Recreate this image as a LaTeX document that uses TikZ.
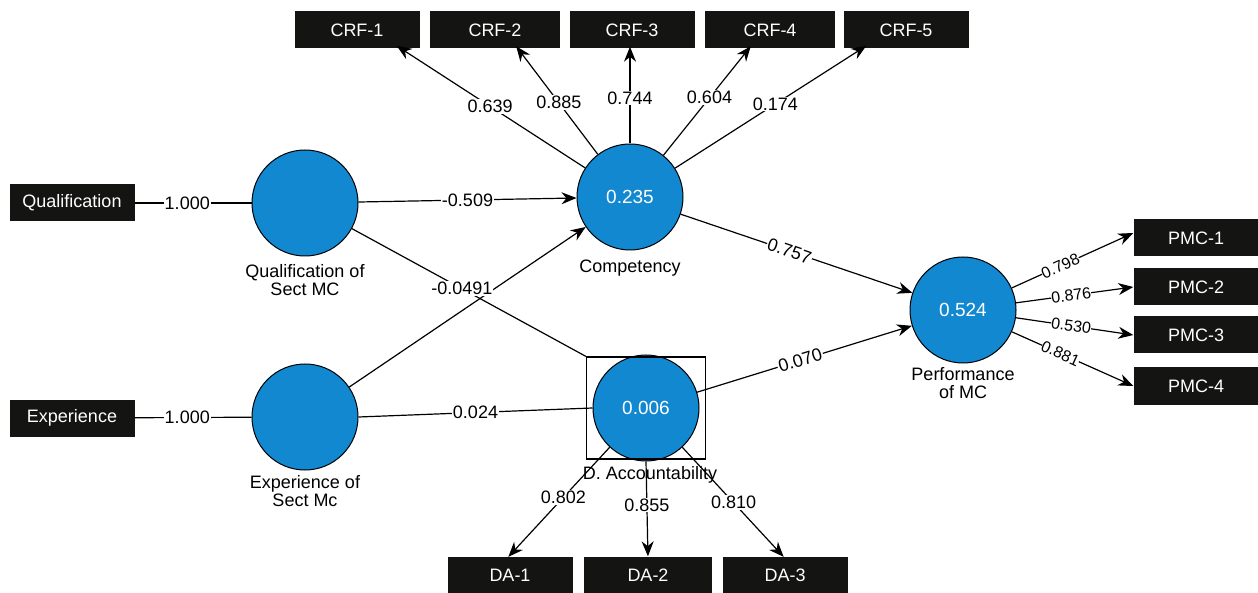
\documentclass[tikz,border=0pt]{standalone}
\usepackage{fontspec}
\setmainfont{Liberation Sans}
\usetikzlibrary{arrows.meta}
\definecolor{lvblue}{RGB}{18,136,208}
\definecolor{boxblack}{RGB}{20,20,18}
\tikzset{
  lv/.style={circle,draw=black,line width=1pt,fill=lvblue,minimum size=106pt,inner sep=0pt,text=white,font=\fontsize{19}{19}\selectfont},
  mv/.style={rectangle,fill=boxblack,text=white,minimum width=125pt,minimum height=37pt,inner sep=0pt,font=\fontsize{18}{18}\selectfont},
  lvname/.style={align=center,font=\fontsize{18}{18}\selectfont,inner sep=0pt},
  lbl/.style={fill=white,inner sep=1pt,font=\fontsize{18}{18}\selectfont},
  plbl/.style={fill=white,inner sep=0pt,font=\fontsize{16}{16}\selectfont},
  ln/.style={draw=black,line width=1.2pt},
  arr/.style={ln,-{Stealth[length=15pt,width=12pt]}},
}
\begin{document}
\begin{tikzpicture}[x=1pt,y=-1pt]
\useasboundingbox (0,0) rectangle (1258,593);
% latent variables
\node[lv] (qual) at (305,203) {};
\node[lv] (exp) at (305,417) {};
\node[lv] (comp) at (630,197) {0.235};
\node[lv] (da) at (646,408) {0.006};
\node[lv] (perf) at (963,310) {0.524};
\node[draw=black,line width=1.2pt,minimum width=119pt,minimum height=102pt,inner sep=0pt] (dasq) at (646,408) {};
% names
\node[lvname] (qualn) at (305,280) {Qualification of\\Sect MC};
\node[lvname] (expn) at (305,491) {Experience of\\Sect Mc};
\node[lvname] (compn) at (630,268) {Competency};
\node[lvname] (dan) at (650,475) {D. Accountability};
\node[lvname] (perfn) at (963,383) {Performance\\of MC};
% manifest variables
\node[mv] (qbox) at (72,203) {Qualification};
\node[mv] (ebox) at (72,418) {Experience};
\node[mv] (crf1) at (357,30) {CRF-1};
\node[mv,minimum width=130pt] (crf2) at (495,30) {CRF-2};
\node[mv] (crf3) at (632,30) {CRF-3};
\node[mv,minimum width=130pt] (crf4) at (770,30) {CRF-4};
\node[mv] (crf5) at (906,30) {CRF-5};
\node[mv] (pmc1) at (1196,238) {PMC-1};
\node[mv] (pmc2) at (1196,287) {PMC-2};
\node[mv] (pmc3) at (1196,335) {PMC-3};
\node[mv] (pmc4) at (1196,386) {PMC-4};
\node[mv] (da1) at (510,575) {DA-1};
\node[mv,minimum width=128pt] (da2) at (648,575) {DA-2};
\node[mv] (da3) at (785,575) {DA-3};
% outer model of single-item constructs
\draw[ln] (qbox) -- node[lbl,pos=0.45]{1.000} (qual);
\draw[ln] (ebox) -- node[lbl,pos=0.45]{1.000} (exp);
% inner model
\draw[arr] (qual) -- node[lbl,pos=0.5]{-0.509} (comp);
\draw[arr] (exp) -- (comp);
\draw[ln] (qual) -- node[lbl,pos=0.47]{-0.0491} (dasq.north west);
\draw[ln] (exp.east) -- node[lbl,pos=0.5]{0.024} (da.west);
\draw[arr] (comp) -- node[lbl,sloped,pos=0.47]{0.757} (perf);
\draw[arr] (da) -- node[lbl,sloped,pos=0.48]{0.070} (perf);
% competency indicators
\draw[arr,shorten >=2pt] (comp) -- node[lbl,pos=0.5]{0.639} ([xshift=38pt,yshift=4pt]crf1.south);
\draw[arr,shorten >=2pt] (comp) -- node[lbl,pos=0.47]{0.885} ([xshift=20pt,yshift=4pt]crf2.south);
\draw[arr,shorten >=2pt] (comp) -- node[lbl,pos=0.46]{0.744} ([xshift=-2pt,yshift=4pt]crf3.south);
\draw[arr,shorten >=2pt] (comp) -- node[lbl,pos=0.52]{0.604} ([xshift=-18pt,yshift=4pt]crf4.south);
\draw[arr,shorten >=2pt] (comp) -- node[lbl,pos=0.52]{0.174} ([xshift=-38pt,yshift=4pt]crf5.south);
% performance indicators
\draw[arr] (perf) -- node[plbl,sloped,pos=0.4]{0.798} ([yshift=5pt]pmc1.west);
\draw[arr] (perf) -- node[plbl,sloped,pos=0.47]{0.876} (pmc2.west);
\draw[arr] (perf) -- node[plbl,sloped,pos=0.47]{0.530} (pmc3.west);
\draw[arr] (perf) -- node[plbl,sloped,pos=0.4]{0.881} (pmc4.west);
% accountability indicators
\draw[arr,shorten >=2pt] (da) -- node[lbl,pos=0.45]{0.802} ([xshift=-3pt,yshift=-2pt]da1.north);
\draw[arr,shorten >=2pt] (da.south) -- node[lbl,pos=0.45]{0.855} ([yshift=-2pt]da2.north);
\draw[arr,shorten >=2pt] (da) -- node[lbl,pos=0.5]{0.810} ([yshift=-2pt]da3.north);
\end{tikzpicture}
\end{document}
